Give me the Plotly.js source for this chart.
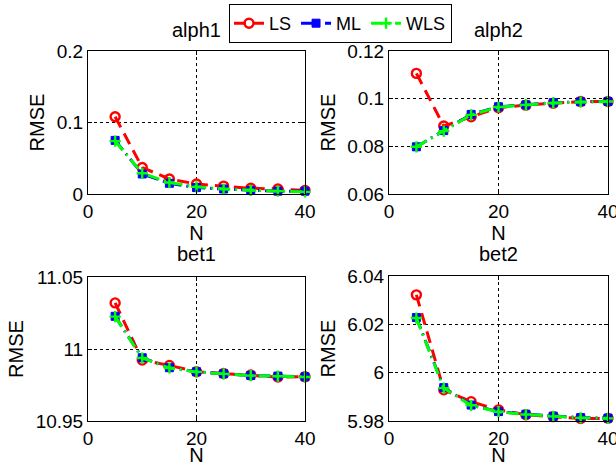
<!DOCTYPE html>
<html>
<head>
<meta charset="utf-8">
<script src="https://cdn.plot.ly/plotly-3.0.1.min.js"></script>
<style>html,body{margin:0;padding:0;background:#fff;}#chart{width:616px;height:466px;}</style>
</head>
<body>
<div id="chart"></div>
<script>
var N = [5, 10, 15, 20, 25, 30, 35, 40];
var seriesNames = ["LS", "ML", "WLS"];
var panelTitles = ["alph1", "alph2", "bet1", "bet2"];

var alph1_LS  = [0.108, 0.037, 0.021, 0.014, 0.011, 0.008, 0.007, 0.005];
var alph1_ML  = [0.075, 0.028, 0.015, 0.009, 0.007, 0.005, 0.004, 0.004];
var alph1_WLS = [0.074, 0.029, 0.016, 0.010, 0.007, 0.005, 0.004, 0.003];

var alph2_LS  = [0.1106, 0.0885, 0.0924, 0.0962, 0.0973, 0.0981, 0.0988, 0.0988];
var alph2_ML  = [0.0798, 0.0866, 0.0934, 0.0966, 0.0974, 0.0983, 0.0987, 0.0988];
var alph2_WLS = [0.0798, 0.0864, 0.0932, 0.0965, 0.0974, 0.0982, 0.0986, 0.0988];

var bet1_LS  = [11.0320, 10.9923, 10.9886, 10.9842, 10.9830, 10.9819, 10.9805, 10.9807];
var bet1_ML  = [11.0227, 10.9939, 10.9870, 10.9842, 10.9828, 10.9816, 10.9812, 10.9807];
var bet1_WLS = [11.0225, 10.9937, 10.9868, 10.9841, 10.9827, 10.9815, 10.9811, 10.9806];

var bet2_LS  = [6.0322, 5.9929, 5.9880, 5.9846, 5.9826, 5.9818, 5.9810, 5.9811];
var bet2_ML  = [6.0228, 5.9938, 5.9866, 5.9839, 5.9828, 5.9820, 5.9814, 5.9812];
var bet2_WLS = [6.0226, 5.9936, 5.9865, 5.9838, 5.9827, 5.9819, 5.9813, 5.9811];

var yRanges = [[0, 0.2], [0.06, 0.12], [10.95, 11.05], [5.98, 6.04]];
var yDticks = [0.1, 0.02, 0.05, 0.02];

var panels = [
  [alph1_LS, alph1_ML, alph1_WLS],
  [alph2_LS, alph2_ML, alph2_WLS],
  [bet1_LS, bet1_ML, bet1_WLS],
  [bet2_LS, bet2_ML, bet2_WLS]
];

var styles = [
  {line: {color: "#ff0000", width: 3, dash: "12px,7px"},
   marker: {symbol: "circle-open", size: 9, color: "#ff0000", line: {width: 2.4, color: "#ff0000"}}},
  {line: {color: "#0000ff", width: 3, dash: "12px,5px,2px,5px"},
   marker: {symbol: "square", size: 8, color: "#0000ff", line: {width: 1, color: "#0000ff"}}},
  {line: {color: "#00ff00", width: 3, dash: "12px,5px,2px,5px"},
   marker: {symbol: "cross-thin", size: 8, color: "#00ff00", line: {width: 2.4, color: "#00ff00"}}}
];

var W = 616, H = 466;
function px2fx(x) { return x / W; }
function px2fy(y) { return 1 - y / H; }
var xDomains = [[88, 305], [389, 608], [88, 305], [389, 608]];
var yDomains = [[51, 194], [51, 194], [277, 421], [276, 421]];

var data = [];
var layout = {
  width: W, height: H,
  margin: {l: 0, r: 0, t: 0, b: 0},
  paper_bgcolor: "#ffffff",
  plot_bgcolor: "#ffffff",
  font: {family: "Liberation Sans, Arial, sans-serif", size: 19, color: "#000"},
  showlegend: true,
  legend: {
    orientation: "h",
    x: px2fx(229), y: px2fy(4), xanchor: "left", yanchor: "top",
    bordercolor: "#000", borderwidth: 1, bgcolor: "#ffffff",
    font: {size: 18},
    itemwidth: 30,
    tracegroupgap: 0
  },
  annotations: []
};

for (var p = 0; p < 4; p++) {
  var sx = p === 0 ? "" : String(p + 1);
  for (var s = 0; s < 3; s++) {
    data.push({
      x: N, y: panels[p][s],
      xaxis: "x" + sx, yaxis: "y" + sx,
      type: "scatter", mode: "lines+markers",
      name: seriesNames[s],
      legendgroup: seriesNames[s],
      showlegend: p === 0,
      cliponaxis: false,
      line: styles[s].line,
      marker: styles[s].marker
    });
  }
  var common = {
    showline: true, linecolor: "#000", linewidth: 1, mirror: "ticks",
    ticks: "inside", ticklen: 4, tickcolor: "#000", tickwidth: 1,
    showgrid: true, gridcolor: "#000", griddash: "dot", gridwidth: 1,
    zeroline: false,
    ticklabeloverflow: "allow",
    tickfont: {size: 19, color: "#000"}
  };
  layout["xaxis" + sx] = Object.assign({}, common, {
    domain: [px2fx(xDomains[p][0]), px2fx(xDomains[p][1])],
    range: [0, 40], tickmode: "linear", tick0: 0, dtick: 20,
    anchor: "y" + sx,
    title: {text: "N", font: {size: 20, color: "#000"}, standoff: 0}
  });
  layout["yaxis" + sx] = Object.assign({}, common, {
    domain: [px2fy(yDomains[p][1]), px2fy(yDomains[p][0])],
    range: yRanges[p], tickmode: "linear", tick0: yRanges[p][0], dtick: yDticks[p],
    anchor: "x" + sx,
    title: {text: "RMSE", font: {size: 20, color: "#000"}, standoff: 6}
  });
  layout.annotations.push({
    text: panelTitles[p],
    xref: "paper", yref: "paper",
    x: px2fx((xDomains[p][0] + xDomains[p][1]) / 2),
    y: px2fy(p < 2 ? 30 : 254),
    xanchor: "center", yanchor: "middle",
    showarrow: false,
    font: {size: 20, color: "#000"}
  });
}

Plotly.newPlot("chart", data, layout, {displayModeBar: false, staticPlot: true});
</script>
</body>
</html>
